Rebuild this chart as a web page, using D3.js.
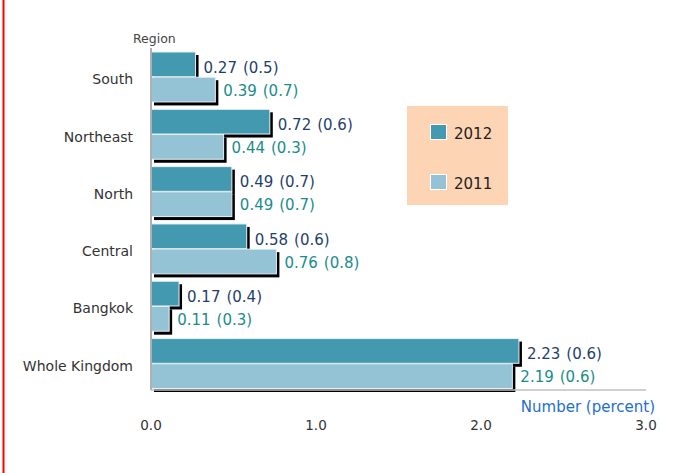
<!DOCTYPE html>
<html><head><meta charset="utf-8">
<script src="https://cdn.jsdelivr.net/npm/d3@7"></script>
<style>body{margin:0;background:#fff;} svg{display:block;font-family:"DejaVu Sans","Noto Sans",sans-serif;}</style>
</head><body>
<svg id="c" width="681" height="473"></svg>
<script>
const categories = ["South","Northeast","North","Central","Bangkok","Whole Kingdom"];
const series = ["2012","2011"];
const values2012 = [0.27,0.72,0.49,0.58,0.17,2.23];
const se2012 = [0.5,0.6,0.7,0.6,0.4,0.6];
const values2011 = [0.39,0.44,0.49,0.76,0.11,2.19];
const se2011 = [0.7,0.3,0.7,0.8,0.3,0.6];
const xTicks = [0,1,2,3];

const colors = {"2012":"#4399b0","2011":"#93c3d4"};
const labelColors = {"2012":"#1f3f6e","2011":"#1a8c8a"};

const svg = d3.select("#c");
const x = d3.scaleLinear().domain([0,3]).range([151,646]);
const y0 = d3.scaleBand().domain(categories).range([52,389]).paddingInner(0.12).paddingOuter(0);
const y1 = d3.scaleBand().domain(series).range([0,y0.bandwidth()]);

// red left border line
svg.append("line").attr("x1",3.5).attr("x2",3.5).attr("y1",0).attr("y2",473).attr("stroke","#f00").attr("stroke-width",2);

const data = [];
categories.forEach((c,i)=>{
  data.push({cat:c,s:"2012",v:values2012[i],se:se2012[i]});
  data.push({cat:c,s:"2011",v:values2011[i],se:se2011[i]});
});

// shadows
svg.append("g").selectAll("rect").data(data).join("rect")
  .attr("x",x(0)+3).attr("y",d=>y0(d.cat)+y1(d.s)+3)
  .attr("width",d=>x(d.v)-x(0)).attr("height",y1.bandwidth())
  .attr("fill","#000");
// bars
svg.append("g").selectAll("rect").data(data).join("rect")
  .attr("x",x(0)).attr("y",d=>y0(d.cat)+y1(d.s))
  .attr("width",d=>x(d.v)-x(0)).attr("height",y1.bandwidth()-0.5)
  .attr("fill",d=>colors[d.s]).attr("stroke","#e6f2f6").attr("stroke-width",1);

// value labels
const vl = svg.append("g").selectAll("text").data(data).join("text")
  .attr("x",d=>x(d.v)+8).attr("y",d=>y0(d.cat)+y1(d.s)+y1.bandwidth()/2+(d.s==="2012"?8:6))
  .attr("fill",d=>labelColors[d.s]).attr("font-size",15);
vl.append("tspan").text(d=>d.v.toFixed(2));
vl.append("tspan").attr("dx",6).text(d=>"("+d.se.toFixed(1)+")");

// axes lines
svg.append("line").attr("x1",151).attr("x2",151).attr("y1",48).attr("y2",390).attr("stroke","#b0b0b0").attr("stroke-width",2);
svg.append("line").attr("x1",151).attr("x2",646).attr("y1",390).attr("y2",390).attr("stroke","#c0c0c0").attr("stroke-width",1.5);

// category labels
svg.append("g").selectAll("text").data(categories).join("text")
  .attr("x",133).attr("y",d=>y0(d)+y0.bandwidth()/2+7)
  .attr("text-anchor","end").attr("fill","#333").attr("font-size",14).text(d=>d);

svg.append("text").attr("x",133).attr("y",43).attr("fill","#444").attr("font-size",12.5).text("Region");

// x tick labels
svg.append("g").selectAll("text").data(xTicks).join("text")
  .attr("x",d=>x(d)).attr("y",430).attr("text-anchor","middle").attr("fill","#333").attr("font-size",13.5)
  .text(d=>d.toFixed(1));

svg.append("text").attr("x",655).attr("y",412).attr("text-anchor","end").attr("fill","#1e6fd0").attr("font-size",15).text("Number (percent)");

// legend
const lg = svg.append("g");
lg.append("rect").attr("x",407).attr("y",106).attr("width",101).attr("height",99).attr("fill","#fdd5b4");
series.forEach((s,i)=>{
  lg.append("rect").attr("x",430.5).attr("y",124.5+i*50).attr("width",16).attr("height",15).attr("fill",colors[s]).attr("stroke","#fff").attr("stroke-width",1);
  lg.append("text").attr("x",454).attr("y",139+i*50).attr("fill","#222").attr("font-size",15).text(s);
});
</script>
</body></html>
